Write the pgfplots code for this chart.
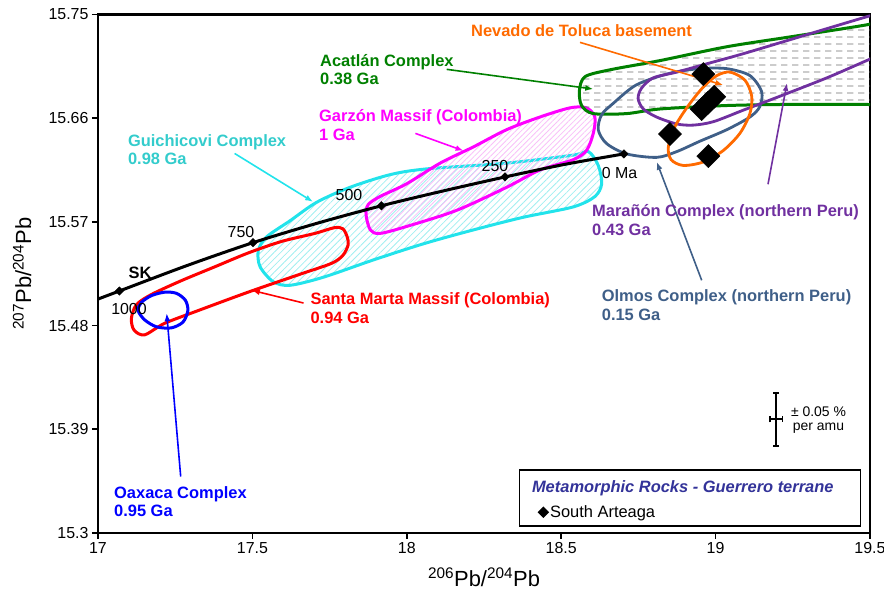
\documentclass[border=0pt]{standalone}
\usepackage{pgfplots}
\pgfplotsset{compat=1.18}
\usepackage{fontspec}
\setmainfont{Liberation Sans}
\usetikzlibrary{patterns,patterns.meta,arrows.meta}

\definecolor{cyanline}{HTML}{22E3EB}
\definecolor{cyantext}{HTML}{33CCCC}
\definecolor{cyanhatch}{HTML}{A0EEF0}
\definecolor{maghatch}{HTML}{F8C0F8}
\definecolor{magline}{HTML}{FF00FF}
\definecolor{acgreen}{HTML}{008000}
\definecolor{tolorange}{HTML}{FF6A00}
\definecolor{marpurple}{HTML}{7030A0}
\definecolor{olmos}{HTML}{3F5F88}
\definecolor{legblue}{HTML}{333399}
\definecolor{oax}{HTML}{0000FF}
\definecolor{dashgray}{HTML}{6E6E6E}

\pgfdeclarepattern{
  name=hdash,
  type=uncolored,
  bottom left={\pgfpoint{0bp}{0bp}},
  top right={\pgfpoint{11bp}{7bp}},
  tile size={\pgfpoint{11bp}{7bp}},
  code={
    \pgfsetlinewidth{0.9bp}
    \pgfpathmoveto{\pgfpoint{0bp}{3.5bp}}
    \pgfpathlineto{\pgfpoint{7bp}{3.5bp}}
    \pgfusepath{stroke}
  }
}

\pgfplotsset{diamleg/.style={legend image code/.code={\draw[##1] plot coordinates {(0bp,0bp)};}}}

\newcommand\lbl{\fontsize{16.5}{19}\selectfont\bfseries}
\newcommand\reg{\fontsize{16}{19}\selectfont}

\begin{document}
\begin{tikzpicture}
\begin{axis}[
  scale only axis, width=772bp, height=518.5bp,
  at={(0,0)}, anchor=south west,
  xmin=17, xmax=19.5, ymin=15.3, ymax=15.75,
  xtick={17,17.5,18,18.5,19,19.5},
  xticklabels={17,17.5,18,18.5,19,19.5},
  ytick={15.3,15.39,15.48,15.57,15.66,15.75},
  yticklabels={15.3,15.39,15.48,15.57,15.66,15.75},
  /pgf/number format/assume math mode=true,
  tick align=outside, xtick pos=bottom, ytick pos=left,
  major tick length=6bp,
  axis line style={line width=2.2bp},
  every tick/.style={black, line width=1.6bp},
  tick label style={font=\reg},
  xlabel={\textsuperscript{206}Pb/\textsuperscript{204}Pb},
  ylabel={\textsuperscript{207}Pb/\textsuperscript{204}Pb},
  label style={font=\fontsize{22}{26}\selectfont},
  xlabel style={at={(axis description cs:0.5,-0.0849)},anchor=center},
  ylabel style={at={(axis description cs:-0.0984,0.5)},anchor=center},
  legend style={at={(rel axis cs:0.5453,0.0122)}, anchor=south west,
    draw=black, line width=1.5bp, font=\fontsize{16.5}{19}\selectfont,
    inner xsep=19bp, inner ysep=5bp, row sep=8bp},
  legend cell align=left,
]

% Guichicovi Complex (cyan)
\addplot[draw=cyanline, line width=3bp, pattern={Lines[angle=45,distance=4.7bp,line width=0.8bp]}, pattern color=cyanhatch, smooth cycle, forget plot] coordinates {
(17.519,15.545) (17.525,15.531) (17.568,15.518) (17.622,15.515) (17.730,15.522) (17.892,15.537) (18.054,15.551) (18.215,15.563) (18.377,15.574) (18.539,15.583) (18.609,15.592) (18.631,15.603) (18.620,15.619) (18.588,15.631) (18.539,15.628) (18.323,15.621) (18.064,15.616) (17.946,15.611) (17.816,15.600) (17.708,15.587) (17.622,15.571) (17.546,15.557)};

% Santa Marta Massif (red)
\addplot[draw=red, line width=3bp, smooth cycle, forget plot] coordinates {
(17.793,15.564) (17.807,15.557) (17.810,15.550) (17.793,15.541) (17.756,15.534) (17.648,15.524) (17.486,15.509) (17.324,15.493) (17.216,15.482) (17.151,15.472) (17.117,15.476) (17.108,15.486) (17.124,15.498) (17.173,15.507) (17.270,15.519) (17.378,15.531) (17.486,15.543) (17.594,15.553) (17.702,15.560) (17.766,15.565)};

% Garzon Massif (magenta)
\addplot[draw=magline, line width=3bp, pattern={Lines[angle=45,distance=3.8bp,line width=0.8bp]}, pattern color=maghatch, smooth cycle, forget plot] coordinates {
(17.868,15.576) (17.882,15.563) (17.913,15.560) (17.999,15.566) (18.161,15.580) (18.323,15.600) (18.431,15.615) (18.539,15.624) (18.582,15.632) (18.604,15.647) (18.609,15.661) (18.582,15.669) (18.529,15.669) (18.431,15.661) (18.323,15.650) (18.215,15.635) (18.108,15.621) (17.999,15.603) (17.913,15.592) (17.875,15.585)};

% Oaxaca Complex (blue)
\addplot[draw=oax, line width=3bp, smooth cycle, forget plot] coordinates {
(17.130,15.493) (17.151,15.485) (17.189,15.479) (17.237,15.478) (17.275,15.483) (17.291,15.493) (17.283,15.502) (17.254,15.508) (17.216,15.509) (17.173,15.506) (17.140,15.500)};

% Stacey-Kramers curve
\addplot[black, line width=3bp, smooth, forget plot] coordinates {
(16.980,15.501) (17.069,15.510) (17.287,15.532) (17.502,15.552) (17.712,15.569) (17.918,15.584) (18.120,15.597) (18.318,15.609) (18.513,15.620) (18.703,15.629)};
\addplot[black, only marks, mark=square*, mark size=3bp, mark options={rotate=45}, forget plot] coordinates {
(17.069,15.510) (17.502,15.552) (17.918,15.584) (18.318,15.609) (18.703,15.629)};

% Acatlan Complex (green, dashed fill)
\addplot[draw=acgreen, line width=3bp, pattern=hdash, pattern color=dashgray, smooth cycle, forget plot] coordinates {
(19.60,15.747) (19.489,15.741) (19.252,15.731) (19.036,15.722) (18.820,15.710) (18.658,15.702) (18.577,15.696) (18.559,15.684) (18.566,15.671) (18.604,15.664) (18.712,15.664) (18.820,15.668) (19.036,15.671) (19.252,15.672) (19.489,15.672) (19.60,15.672)};

% South Arteaga samples
\addplot[black, only marks, mark=square*, mark size=8.2bp, mark options={rotate=45}, forget plot] coordinates {
(18.9602,15.6983) (18.9958,15.6786) (18.9754,15.6734) (18.9550,15.6679) (18.8523,15.6462) (18.9763,15.6271)};

% Olmos Complex
\addplot[draw=olmos, line width=2.8bp, smooth cycle, forget plot] coordinates {
(18.620,15.650) (18.631,15.663) (18.669,15.673) (18.744,15.689) (18.852,15.699) (18.949,15.703) (19.036,15.703) (19.111,15.697) (19.149,15.683) (19.143,15.670) (19.111,15.661) (19.036,15.650) (18.949,15.640) (18.874,15.631) (18.809,15.626) (18.712,15.629) (18.647,15.638)};

% Maranon Complex
\addplot[draw=marpurple, line width=2.8bp, smooth, forget plot] coordinates {
(19.55,15.752) (19.489,15.748) (19.252,15.729) (19.090,15.716) (18.982,15.708) (18.874,15.700) (18.798,15.695) (18.760,15.686) (18.749,15.677) (18.766,15.668) (18.809,15.661) (18.874,15.655) (18.928,15.654) (18.993,15.657) (19.090,15.667) (19.198,15.678) (19.360,15.695) (19.489,15.710) (19.55,15.717)};

% Nevado de Toluca basement
\addplot[draw=tolorange, line width=2.8bp, smooth cycle, forget plot] coordinates {
(19.047,15.700) (19.095,15.693) (19.117,15.679) (19.111,15.664) (19.079,15.647) (19.025,15.632) (18.960,15.622) (18.895,15.619) (18.856,15.624) (18.847,15.635) (18.869,15.653) (18.912,15.671) (18.960,15.687) (19.004,15.697)};

% arrows
\addplot[tolorange, line width=1.6bp, -{Latex[length=8bp,width=6bp]}, forget plot] coordinates {(18.5609,15.7258) (19.0249,15.6887)};
\addplot[acgreen, line width=1.6bp, -{Latex[length=8bp,width=6bp]}, forget plot] coordinates {(18.1292,15.7024) (18.6039,15.6853)};
\addplot[magline, line width=1.6bp, -{Latex[length=8bp,width=6bp]}, forget plot] coordinates {(18.0278,15.6468) (18.1839,15.6317)};
\addplot[cyanline, line width=1.6bp, -{Latex[length=8bp,width=6bp]}, forget plot] coordinates {(17.4424,15.6294) (17.6966,15.5874)};
\addplot[red, line width=1.6bp, -{Latex[length=8bp,width=6bp]}, forget plot] coordinates {(17.6655,15.4996) (17.4981,15.5106)};
\addplot[oax, line width=1.6bp, -{Latex[length=8bp,width=6bp]}, forget plot] coordinates {(17.2678,15.3490) (17.2225,15.4907)};
\addplot[marpurple, line width=1.6bp, -{Latex[length=8bp,width=6bp]}, forget plot] coordinates {(19.1697,15.6027) (19.2312,15.6905)};
\addplot[olmos, line width=1.6bp, -{Latex[length=8bp,width=6bp]}, forget plot] coordinates {(18.9550,15.5193) (18.8093,15.6221)};

% analytical uncertainty
\addplot[black, line width=1.8bp, mark=none, forget plot,
  error bars/.cd, y dir=both, y explicit, error mark=|,
  error bar style={line width=1.8bp},
  error mark options={line width=1.8bp, mark size=3bp}]
  coordinates {(19.196,15.3986) +- (0,0.0232)};
\addplot[black, line width=1.8bp, mark=none, forget plot,
  error bars/.cd, x dir=both, x explicit, error mark=|,
  error bar style={line width=1.8bp},
  error mark options={line width=1.8bp, mark size=3bp}]
  coordinates {(19.196,15.3986) +- (0.0206,0)};

% labels
\node[anchor=base west, inner sep=0, font=\lbl, text=tolorange] at (axis cs:18.2079,15.7307) {Nevado de Toluca basement};
\node[anchor=base west, inner sep=0, font=\lbl, text=acgreen] at (axis cs:17.7189,15.7053) {Acatlán Complex};
\node[anchor=base west, inner sep=0, font=\lbl, text=acgreen] at (axis cs:17.7189,15.6894) {0.38 Ga};
\node[anchor=base west, inner sep=0, font=\lbl, text=magline] at (axis cs:17.7157,15.6575) {Garzón Massif (Colombia)};
\node[anchor=base west, inner sep=0, font=\lbl, text=magline] at (axis cs:17.7157,15.6410) {1 Ga};
\node[anchor=base west, inner sep=0, font=\lbl, text=cyantext] at (axis cs:17.0968,15.6358) {Guichicovi Complex};
\node[anchor=base west, inner sep=0, font=\lbl, text=cyantext] at (axis cs:17.0968,15.6199) {0.98 Ga};
\node[anchor=base west, inner sep=0, font=\lbl, text=red] at (axis cs:17.6878,15.4982) {Santa Marta Massif (Colombia)};
\node[anchor=base west, inner sep=0, font=\lbl, text=red] at (axis cs:17.6878,15.4822) {0.94 Ga};
\node[anchor=base west, inner sep=0, font=\lbl, text=oax] at (axis cs:17.0518,15.3299) {Oaxaca Complex};
\node[anchor=base west, inner sep=0, font=\lbl, text=oax] at (axis cs:17.0518,15.3143) {0.95 Ga};
\node[anchor=base west, inner sep=0, font=\lbl, text=marpurple] at (axis cs:18.5997,15.5749) {Marañón Complex (northern Peru)};
\node[anchor=base west, inner sep=0, font=\lbl, text=marpurple] at (axis cs:18.5997,15.5584) {0.43 Ga};
\node[anchor=base west, inner sep=0, font=\lbl, text=olmos] at (axis cs:18.6311,15.5011) {Olmos Complex (northern Peru)};
\node[anchor=base west, inner sep=0, font=\lbl, text=olmos] at (axis cs:18.6311,15.4846) {0.15 Ga};
\node[anchor=base west, inner sep=0, font=\reg] at (axis cs:18.6311,15.6073) {0 Ma};
\node[anchor=base, inner sep=0, font=\reg] at (axis cs:18.2856,15.6134) {250};
\node[anchor=base, inner sep=0, font=\reg] at (axis cs:17.8128,15.5882) {500};
\node[anchor=base, inner sep=0, font=\reg] at (axis cs:17.4631,15.5561) {750};
\node[anchor=base, inner sep=0, font=\reg] at (axis cs:17.1004,15.4892) {1000};
\node[anchor=base, inner sep=0, font=\lbl] at (axis cs:17.1360,15.5211) {SK};
\node[anchor=base, inner sep=0, font=\fontsize{14}{16}\selectfont] at (axis cs:19.3332,15.4014) {± 0.05 \%};
\node[anchor=base, inner sep=0, font=\fontsize{14}{16}\selectfont] at (axis cs:19.3332,15.3890) {per amu};

% legend
\addlegendimage{empty legend}
\addlegendentry{\hspace*{-18bp}\rule{0pt}{15bp}\textcolor{legblue}{\bfseries\itshape Metamorphic Rocks - Guerrero terrane}\hspace*{6bp}}
\addlegendimage{black, only marks, mark=square*, mark size=3.3bp, mark options={rotate=45}, diamleg}
\addlegendentry{South Arteaga}
\end{axis}
\pgfresetboundingbox
\useasboundingbox (-98bp,-60bp) rectangle (786bp,533bp);
\end{tikzpicture}
\end{document}
